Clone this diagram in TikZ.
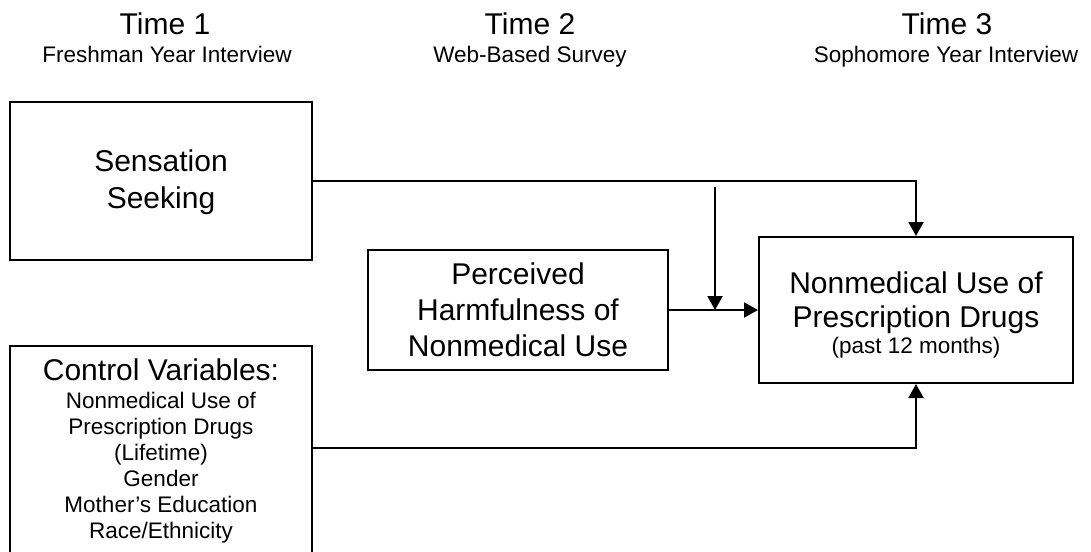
\documentclass[tikz,border=0pt]{standalone}
\usepackage{fontspec}
\setmainfont{Liberation Sans}
\usetikzlibrary{arrows.meta}
\newcommand\bigf{\fontsize{30}{36}\selectfont}
\newcommand\smallf{\fontsize{22.5}{26}\selectfont}
\begin{document}
\begin{tikzpicture}[x=1pt,y=-1pt,
  box/.style={draw, line width=2pt, align=center, inner sep=0pt},
  conn/.style={line width=2pt, -{Triangle[length=14pt,width=15pt]}},
  head/.style={anchor=base, font=\bigf, inner sep=0pt},
  subhead/.style={anchor=base, font=\smallf, inner sep=0pt}]
\fill[white] (0,0) rectangle (1091,551);
\clip (0,0) rectangle (1091,551);
% headers
\node[head] (t1) at (165,35) {Time 1};
\node[subhead] (st1) at (167,63) {Freshman Year Interview};
\node[head] (t2) at (530,35) {Time 2};
\node[subhead] (st2) at (530,63) {Web-Based Survey};
\node[head] (t3) at (947,35) {Time 3};
\node[subhead] (st3) at (946,63) {Sophomore Year Interview};
% boxes
\node[box, font=\bigf, minimum width=302pt, minimum height=158pt] (sens) at (161,181)
  {\rule{0pt}{25pt}Sensation\\[1pt]Seeking};
\node[box, font=\bigf, minimum width=300pt, minimum height=120pt] (perc) at (518,310)
  {Perceived\\Harmfulness of\\Nonmedical Use};
\node[box, font=\bigf, minimum width=314pt, minimum height=146pt] (out) at (916,310)
  {\rule{0pt}{31pt}Nonmedical Use of\\[-2pt]Prescription Drugs\\[-10pt]{\smallf (past 12 months)}};
\node[box, font=\smallf, anchor=north, minimum width=302pt, inner ysep=13pt, text depth=100pt] (ctrl) at (161,345)
  {{\bigf Control Variables:}\\[2pt]Nonmedical Use of\\Prescription Drugs\\(Lifetime)\\Gender\\Mother’s Education\\Race/Ethnicity};
% connectors
\coordinate (mtop) at (715,187);
\coordinate (cturn) at (916,448);
\draw[conn] (sens.east) -- (sens.east -| out.north) -- (out.north);
\draw[conn] (perc.east) -- (out.west);
\draw[conn] (mtop) -- (mtop |- perc.east);
\draw[conn] (ctrl.east |- cturn) -- (cturn) -- (out.south);
\end{tikzpicture}
\end{document}
